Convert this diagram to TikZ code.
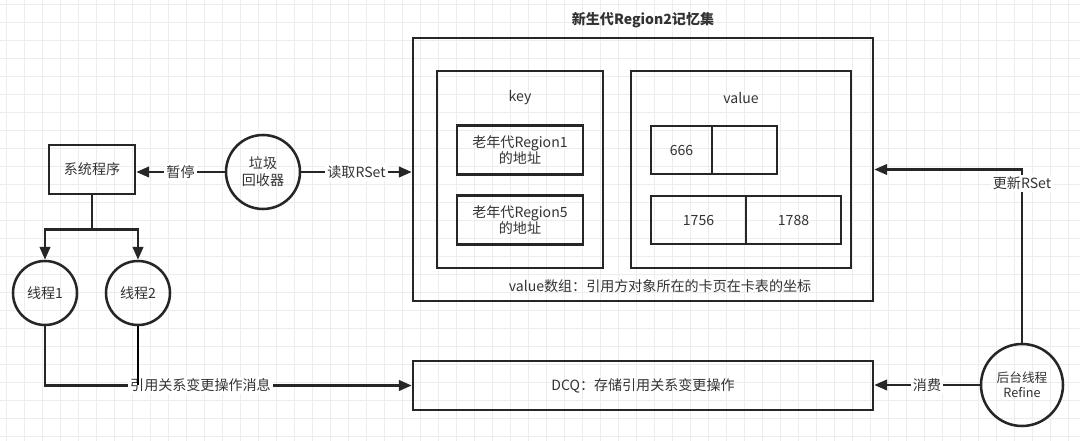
\documentclass[tikz,border=0pt]{standalone}
\usepackage{fontspec}
\setmainfont{Noto Sans CJK SC}
\usepackage{tikz}
\usetikzlibrary{arrows.meta,positioning,calc}

\begin{document}
\begin{tikzpicture}[
    x=0.25mm, y=-0.25mm,
    font=\normalsize,
    text=black!80,
    line width=1.8pt,
    box/.style={draw=black!85, rectangle, inner sep=0pt},
    ring/.style={draw=black!85, circle, inner sep=0pt, align=center},
    arr/.style={draw=black!85, -{Triangle[length=3.2mm, width=2.6mm]}},
    lbl/.style={fill=white, inner sep=1.5pt, text=black!80},
    gridline/.style={draw=black!7, line width=0.4pt}
]

% canvas and faint background grid
\useasboundingbox (0,0) rectangle (1080,441);
\fill [white] (0,0) rectangle (1080,441);
\foreach \x in {6,24,...,1080}
    \draw [gridline] (\x,0) -- (\x,441);
\foreach \y in {4,22,...,441}
    \draw [gridline] (0,\y) -- (1080,\y);

% Remembered set of the young region
\node [box, minimum width=11.5cm, minimum height=6.575cm] (rset) at (643,169.5) {};
\node [font=\bfseries] (title) at (643,20) {新生代Region2记忆集};

% key column
\node [box, minimum width=4.15cm, minimum height=4.925cm] (keys) at (520,169.5) {};
\node (keylbl) at (520,98) {key};
\node [box, minimum width=3.15cm, minimum height=1.225cm, align=center] (key1) at (520,150) {老年代Region1\\的地址};
\node [box, minimum width=3.15cm, minimum height=1.225cm, align=center] (key5) at (520,220) {老年代Region5\\的地址};

% value column
\node [box, minimum width=5.5cm, minimum height=4.925cm] (vals) at (741,169.5) {};
\node (vallbl) at (741,98) {value};
\node [box, minimum width=1.525cm, minimum height=1.2cm] (v11) at (681.5,150) {666};
\node [box, minimum width=1.625cm, minimum height=1.2cm] (v12) at (744.5,150) {};
\node [box, minimum width=2.375cm, minimum height=1.2cm] (v21) at (698.5,220) {1756};
\node [box, minimum width=2.375cm, minimum height=1.2cm] (v22) at (793.5,220) {1788};
\node (valnote) at (660,286) {value数组：引用方对象所在的卡页在卡表的坐标};

% left side: collector, program, threads
\node [box, minimum width=2.15cm, minimum height=1.225cm] (sys) at (92,169.5) {系统程序};
\node [ring, minimum size=1.85cm] (gc) at (263,172) {垃圾\\回收器};
\node [ring, minimum size=1.6cm] (t1) at (45,293) {线程1};
\node [ring, minimum size=1.6cm] (t2) at (138,293) {线程2};

% queue and refine thread
\node [box, minimum width=11.5cm, minimum height=1.225cm] (dcq) at (643,385.5) {DCQ：存储引用关系变更操作};
\node [ring, minimum size=2.05cm, font=\small] (rf) at (1022,385) {后台线程\\Refine};

% Connectors
\draw [arr] (gc) -- node [lbl] {暂停} (gc -| sys.east);
\draw [arr] (gc) -- node [lbl] {读取RSet} (gc -| rset.west);
\draw [arr] (sys.south) -- ++(0,34) -| (t1.north);
\draw [arr] (sys.south) -- ++(0,34) -| (t2.north);
\draw [arr] (t1.south) |- node [lbl, pos=0.712] {引用关系变更操作消息} (dcq.west);
\draw (t2.south) -- (t2.south |- dcq.west);
\draw [arr] (rf.north) |- node [lbl, pos=0.46] {更新RSet} (rset.east);
\draw [arr] (rf.west) -- node [lbl] {消费} (rf.west -| dcq.east);

\end{tikzpicture}
\end{document}
